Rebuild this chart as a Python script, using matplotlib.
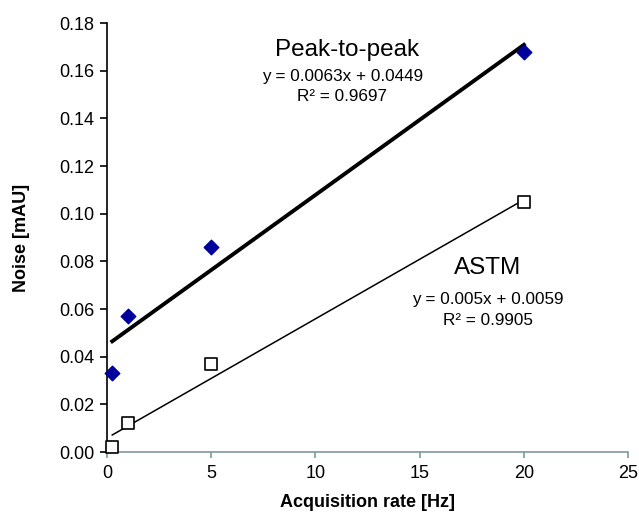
import numpy as np
import matplotlib
matplotlib.use("Agg")
import matplotlib.pyplot as plt

plt.rcParams['font.family'] = ['Liberation Sans', 'DejaVu Sans']

# data
rate = [0.25, 1, 5, 20]
p2p = [0.033, 0.057, 0.086, 0.168]
astm = [0.002, 0.012, 0.037, 0.105]

# linear trend lines (as printed on the chart)
p2p_fit = (0.0063, 0.0449)
astm_fit = (0.005, 0.0059)

fig = plt.figure(figsize=(6.39, 5.14), dpi=100)
ax = fig.add_axes([0.1675, 0.1206, 0.8155, 0.8344])

xs = np.array([rate[0], rate[-1]])
ax.plot(xs, p2p_fit[0] * xs + p2p_fit[1], color='black', lw=2.8, zorder=2)
ax.plot(xs, astm_fit[0] * xs + astm_fit[1], color='black', lw=1.1, zorder=2)

ax.scatter(rate, p2p, marker='D', s=55, color='#00009c', zorder=3, clip_on=False)
ax.scatter(rate, astm, marker='s', s=80, facecolor='white', edgecolor='black',
           linewidth=1.2, zorder=3, clip_on=False)

ax.set_xlim(0, 25)
ax.set_ylim(0, 0.18)
ax.set_xticks([0, 5, 10, 15, 20, 25])
ax.set_yticks(np.arange(0, 0.181, 0.02))
ax.yaxis.set_major_formatter(matplotlib.ticker.FormatStrFormatter('%.2f'))

for s in ['top', 'right']:
    ax.spines[s].set_visible(False)
ax.spines['left'].set_color('black')
ax.spines['left'].set_linewidth(1.2)
ax.spines['bottom'].set_color('#7f9999')
ax.spines['bottom'].set_linewidth(1.2)
ax.tick_params(axis='y', direction='out', length=5, width=1.2, labelsize=13, pad=4)
ax.tick_params(axis='x', direction='out', length=4, width=1.2, color='#7f9999',
               labelsize=13, pad=5)

ax.set_xlabel('Acquisition rate [Hz]', fontsize=13, fontweight='bold', labelpad=9)
ax.set_ylabel('Noise [mAU]', fontsize=13, fontweight='bold', labelpad=21)

ax.text(11.5, 0.1687, 'Peak-to-peak', fontsize=17.5, ha='center', va='center')
ax.text(11.28, 0.1574, 'y = 0.0063x + 0.0449', fontsize=12.3, ha='center', va='center')
ax.text(11.28, 0.149, 'R² = 0.9697', fontsize=12.3, ha='center', va='center')

ax.text(18.28, 0.0772, 'ASTM', fontsize=17.5, ha='center', va='center')
ax.text(18.28, 0.0638, 'y = 0.005x + 0.0059', fontsize=12.3, ha='center', va='center')
ax.text(18.28, 0.0554, 'R² = 0.9905', fontsize=12.3, ha='center', va='center')

fig.savefig('out.png', dpi=100)
